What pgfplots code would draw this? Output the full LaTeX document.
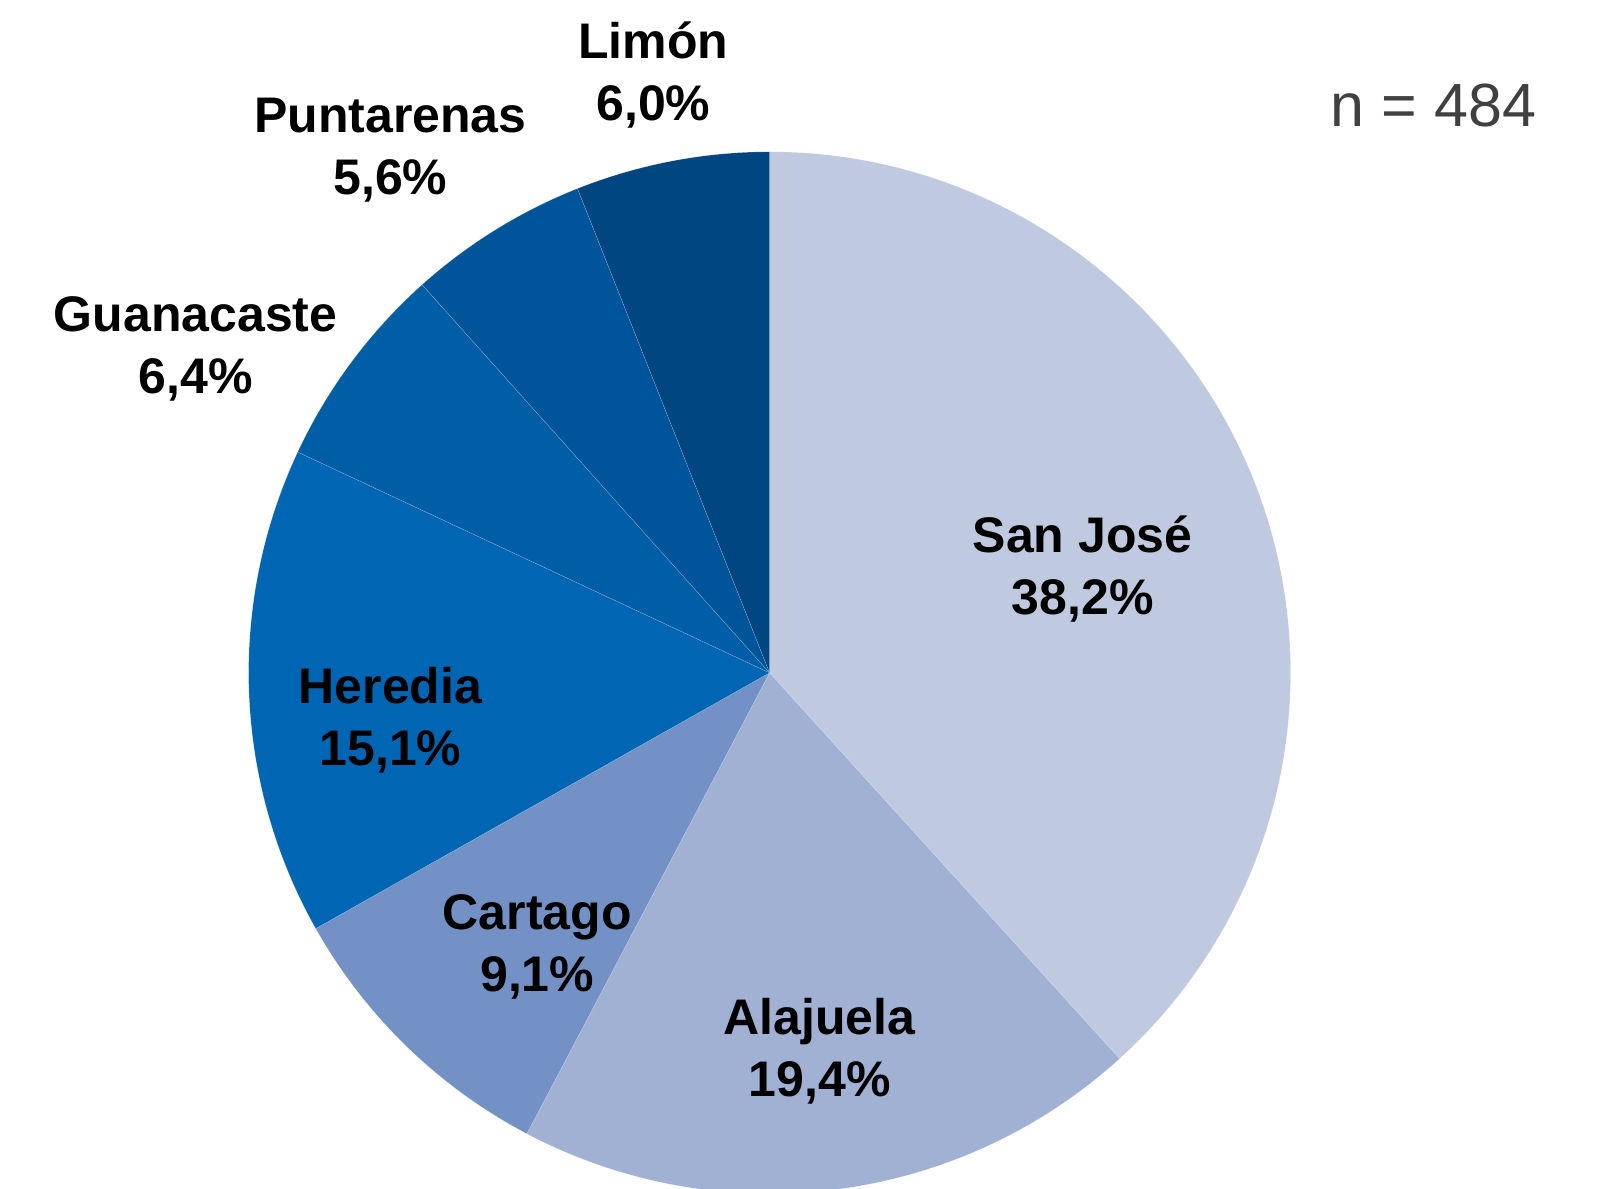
\documentclass[border=0pt]{standalone}
\usepackage{pgfplots}
\pgfplotsset{compat=1.18}
\usepackage{pgfplotstable}
\usepackage{fontspec}
\setmainfont{Liberation Sans}
\definecolor{c1}{HTML}{BFCAE1}
\definecolor{c2}{HTML}{A1B1D4}
\definecolor{c3}{HTML}{7391C5}
\definecolor{c4}{HTML}{0066B3}
\definecolor{c5}{HTML}{005EA6}
\definecolor{c6}{HTML}{00559A}
\definecolor{c7}{HTML}{004782}
\definecolor{ntext}{HTML}{404040}
% name; percent; colour; label x; label y (pixel units of the 1598x1188 picture)
\pgfplotstableread[col sep=semicolon]{
name;pct;col;lx;ly
San José;38.2;c1;1082.6;618.5
Alajuela;19.4;c2;819.6;136.7
Cartago;9.1;c3;537.2;241.2
Heredia;15.1;c4;390.4;468
Guanacaste;6.4;c5;195.7;839
Puntarenas;5.6;c6;390.4;1037.5
Limón;6.0;c7;653.4;1113
}\piedata
\begin{document}
\begin{tikzpicture}
\pgfplotstablegetrowsof{\piedata}\pgfmathtruncatemacro{\lastrow}{\pgfplotsretval-1}
\def\pietotal{0}
\pgfplotsforeachungrouped \i in {0,...,\lastrow}{%
  \pgfplotstablegetelem{\i}{pct}\of\piedata
  \pgfmathsetmacro{\pietotal}{\pietotal+\pgfplotsretval}%
}
\begin{axis}[scale only axis, width=479.4pt, height=356.4pt,
  xmin=0, xmax=1598, ymin=0, ymax=1188, hide axis, clip=true]
\def\piecum{0}
\pgfplotsforeachungrouped \i in {0,...,\lastrow}{%
  \pgfplotstablegetelem{\i}{pct}\of\piedata \let\pieval\pgfplotsretval
  \pgfplotstablegetelem{\i}{col}\of\piedata \let\piecol\pgfplotsretval
  \pgfmathsetmacro{\angA}{90-\piecum/\pietotal*360}%
  \pgfmathsetmacro{\angB}{90-(\piecum+\pieval)/\pietotal*360}%
  \edef\doit{\noexpand\fill[\piecol, draw=white, draw opacity=0.35, line width=0.1pt]
    (axis cs:769.6,515.2) -- ++(\angA:156.3pt)
    arc[start angle=\angA, end angle=\angB, radius=156.3pt] -- cycle;}%
  \doit
  \pgfmathsetmacro{\piecum}{\piecum+\pieval}%
}
\pgfplotsforeachungrouped \i in {0,...,\lastrow}{%
  \pgfplotstablegetelem{\i}{pct}\of\piedata \let\pieval\pgfplotsretval
  \pgfplotstablegetelem{\i}{name}\of\piedata \let\piename\pgfplotsretval
  \pgfplotstablegetelem{\i}{lx}\of\piedata \let\pielx\pgfplotsretval
  \pgfplotstablegetelem{\i}{ly}\of\piedata \let\piely\pgfplotsretval
  \edef\doit{\noexpand\node[align=center, inner sep=0pt,
      font=\noexpand\bfseries\noexpand\fontsize{15}{18.6}\noexpand\selectfont]
    at (axis cs:\pielx,\piely)
    {\piename\noexpand\\\noexpand\pgfmathprintnumber[fixed, fixed zerofill, precision=1, use comma, assume math mode=true]{\pieval}\noexpand\%};}%
  \doit
}
\node[anchor=base east, inner sep=0pt, text=ntext,
  font=\fontsize{18.3}{22}\selectfont] at (axis cs:1536.7,1061.3) {n = 484};
\end{axis}
\pgfresetboundingbox
\useasboundingbox (current axis.south west) rectangle (current axis.north east);
\end{tikzpicture}
\end{document}
